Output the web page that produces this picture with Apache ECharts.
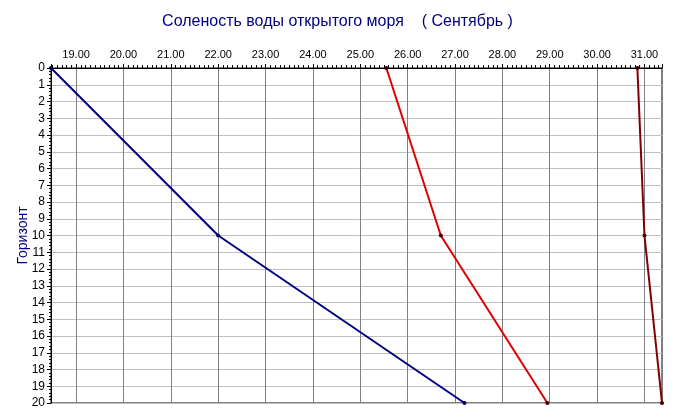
<!DOCTYPE html>
<html>
<head>
<meta charset="utf-8">
<script src="https://cdn.jsdelivr.net/npm/echarts@6/dist/echarts.min.js"></script>
<style>html,body{margin:0;padding:0;background:#fff;}#c{width:675px;height:419px;}</style>
</head>
<body>
<div id="c"></div>
<script>
const titleText = 'Соленость воды открытого моря    ( Сентябрь )';
const yAxisName = 'Горизонт';
const horizons = [0, 10, 20];
const seriesNavy = [18.47, 22.0, 27.2];
const seriesRed = [25.55, 26.7, 28.95];
const seriesBrown = [30.85, 31.0, 31.37];
const xMin = 18.47, xMax = 31.37;

function pts(vals){ return vals.map((v,i)=>[v, horizons[i]]); }

const chart = echarts.init(document.getElementById('c'), null, {renderer:'canvas'});
const font = 'Liberation Sans, Arial, sans-serif';
chart.setOption({
  animation:false,
  backgroundColor:'#fff',
  title:{text:titleText,left:'center',top:9,textStyle:{color:'#000080',fontFamily:font,fontSize:16,fontWeight:'normal'}},
  grid:{left:51,top:68,right:13,bottom:16,show:true,borderColor:'#000',borderWidth:1,backgroundColor:'transparent'},
  xAxis:{
    type:'value',position:'top',min:xMin,max:xMax,minInterval:1,maxInterval:1,splitNumber:13,
    axisLine:{show:true,lineStyle:{color:'#000',width:1}},
    axisTick:{show:true,length:4,lineStyle:{color:'#000'}},
    minorTick:{show:true,splitNumber:10,length:3,lineStyle:{color:'#000'}},
    axisLabel:{color:'#000',fontFamily:font,fontSize:11,margin:8,showMinLabel:false,showMaxLabel:false,formatter:v=>v.toFixed(2)},
    splitLine:{show:true,lineStyle:{color:'#808080',width:1}}
  },
  yAxis:{
    type:'value',inverse:true,min:0,max:20,interval:1,
    name:yAxisName,nameLocation:'middle',nameRotate:90,nameGap:21,nameMoveOverlap:false,
    nameTextStyle:{color:'#000080',fontFamily:font,fontSize:14},
    axisLine:{show:true,lineStyle:{color:'#000',width:1}},
    axisTick:{show:true,length:4,lineStyle:{color:'#000'}},
    minorTick:{show:true,splitNumber:5,length:2,lineStyle:{color:'#000'}},
    axisLabel:{color:'#000',fontFamily:font,fontSize:12,margin:6},
    splitLine:{show:true,lineStyle:{color:'#c0c0c0',width:1}}
  },
  series:[
    {type:'line',data:pts(seriesNavy),symbol:'circle',symbolSize:4,lineStyle:{color:'#000080',width:2},itemStyle:{color:'#000060'}},
    {type:'line',data:pts(seriesRed),symbol:'circle',symbolSize:4,lineStyle:{color:'#e00000',width:2},itemStyle:{color:'#400000'}},
    {type:'line',data:pts(seriesBrown),symbol:'circle',symbolSize:4,lineStyle:{color:'#800000',width:2},itemStyle:{color:'#400000'}}
  ]
});
</script>
</body>
</html>
